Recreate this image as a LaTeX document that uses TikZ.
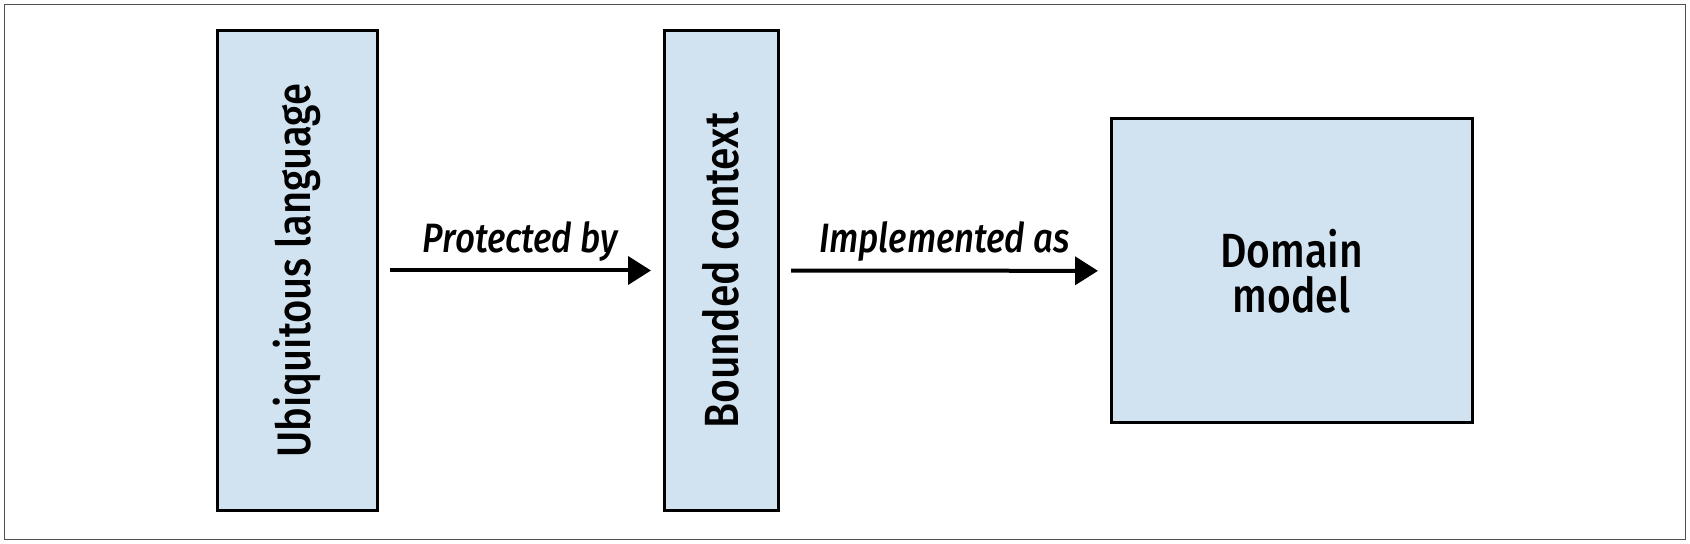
\documentclass[tikz,border=0pt]{standalone}
\usepackage{fontspec}
\setmainfont{Fira Sans}[FakeStretch=0.85, UprightFont=* Medium, ItalicFont=* Medium Italic]
\usetikzlibrary{positioning, arrows.meta}

\definecolor{conceptfill}{HTML}{D1E2F0}
\definecolor{framegray}{HTML}{505050}

\tikzset{
  concept/.style={draw=black, line width=1.5pt, fill=conceptfill, inner sep=0pt,
    align=center, font=\fontsize{24}{22.5}\selectfont},
  relation/.style={-{Triangle[length=11.5pt, width=14pt]}, line width=2pt,
    shorten <=5.75pt, shorten >=5.75pt},
  rellabel/.style={anchor=base, yshift=9pt, font=\fontsize{20.5}{24}\selectfont\itshape}
}

\begin{document}
\begin{tikzpicture}[x=0.5pt, y=-0.5pt]
   \useasboundingbox (0,0) rectangle (1690,544);
   % Frame
   \draw[framegray, line width=0.8pt] (4.5,4.5) rectangle (1685.5,539.5);

   % The three concepts
   \node[concept, minimum width=80pt, minimum height=239.5pt] (ul) at (297,270.5)
      {\rotatebox{90}{\fontsize{23.5}{22.5}\selectfont Ubiquitous language}};
   \node[concept, minimum width=57pt, minimum height=239.5pt] (bc) at (721,270.5)
      {\rotatebox{90}{Bounded context}};
   \node[concept, minimum width=180.5pt, minimum height=152pt] (dm) at (1291.5,271)
      {Domain\\model};

   % Relations
   \draw[relation] (ul) -- node[rellabel] {Protected by} (bc);
   \draw[relation] (bc) -- node[rellabel] {Implemented as} (dm);
\end{tikzpicture}
\end{document}
